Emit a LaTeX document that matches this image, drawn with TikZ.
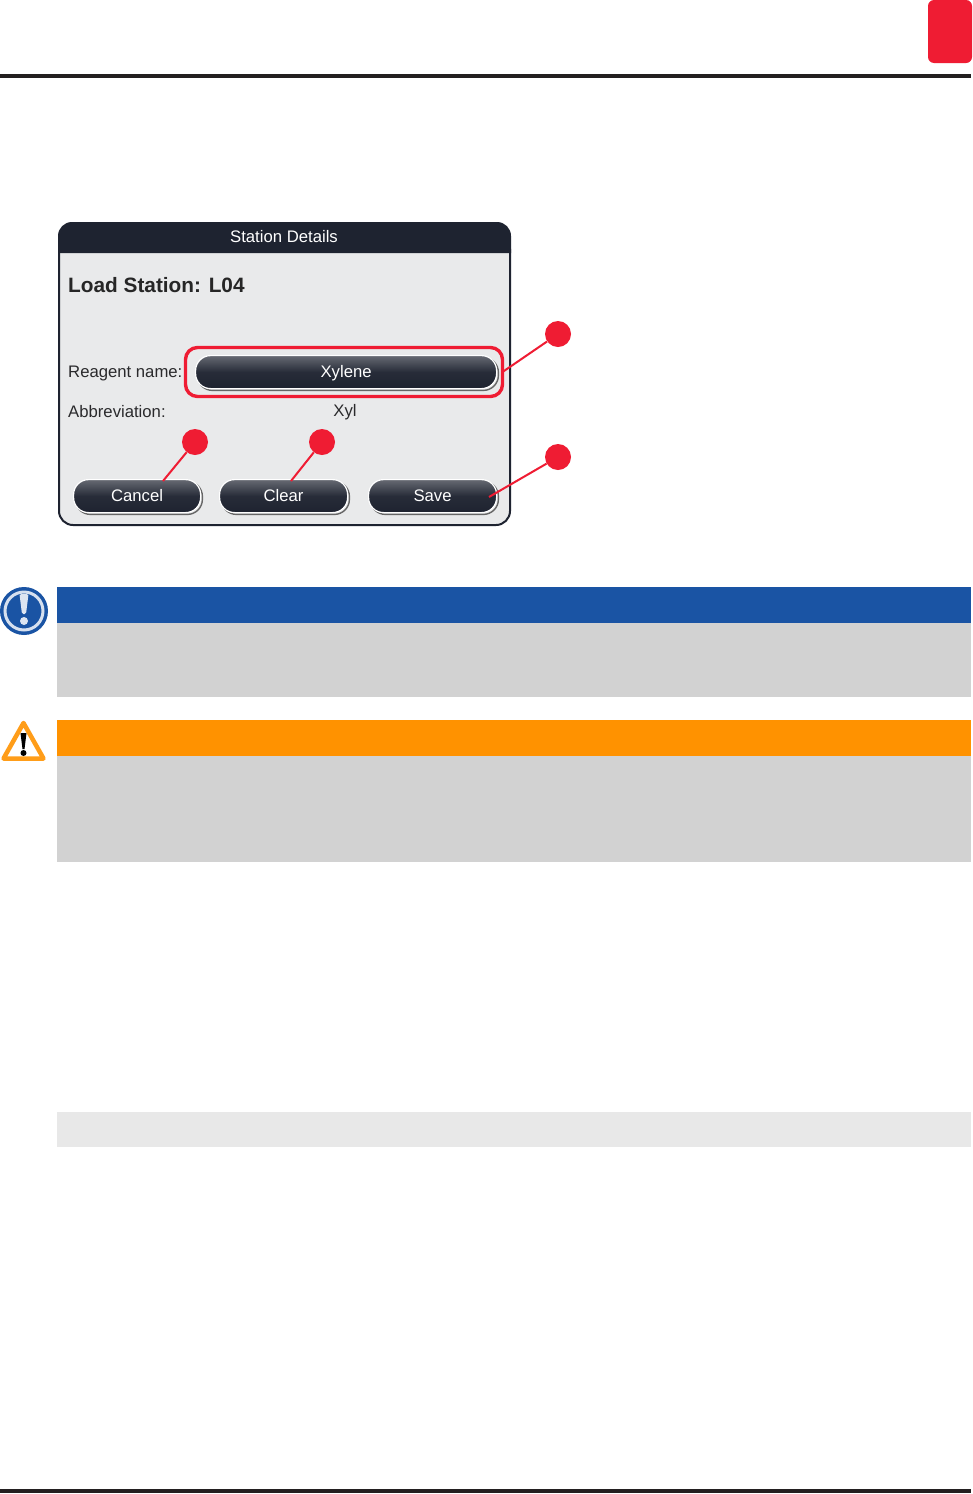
\documentclass[tikz,border=0pt]{standalone}
\usepackage{fontspec}
\setmainfont{Liberation Sans}
\usetikzlibrary{positioning,shapes.geometric}
\definecolor{tabred}{HTML}{EF1C33}
\definecolor{rulegray}{HTML}{231F20}
\definecolor{dialoggray}{HTML}{E9EAEB}
\definecolor{headdark}{HTML}{1E2330}
\definecolor{noteblue}{HTML}{1A54A4}
\definecolor{noteorange}{HTML}{FF9200}
\definecolor{notegray}{HTML}{D2D2D2}
\definecolor{paleband}{HTML}{E8E8E8}
\definecolor{textdark}{HTML}{2A2A2C}

\begin{document}
\begin{tikzpicture}[x=1pt,y=-1pt,%
  % common options for the buttons:
  btn/.style = {rounded corners=15pt, anchor=north west, inner sep=0,
              minimum height=33pt, text=white, font=\fontsize{16.7}{20}\selectfont,
              text height=13.5pt, text depth=2.5pt,
              top color=headdark!68!white, bottom color=headdark, middle color=headdark!96!white,
              draw=white, line width=1.2pt,
              preaction={draw=black!60, line width=1.4pt, transform canvas={xshift=1.8pt,yshift=-1.8pt}}},
  % common options for the callouts:
  callout/.style = {circle, fill=tabred, minimum size=26pt, inner sep=0},
  link/.style = {draw=tabred, line width=2pt},
  % common options for the bars:
  bar/.style = {anchor=north west, inner sep=0, outer sep=0},
  lbl/.style = {anchor=west, inner sep=0, text=textdark, text height=12pt, text depth=3pt,
              font=\fontsize{16.7}{20}\selectfont}
	]
  \useasboundingbox (0,0) rectangle (972,1494);
  \fill[white] (0,0) rectangle (972,1494);

  % page furniture
  \node[bar, fill=tabred, rounded corners=6pt, minimum width=44pt, minimum height=63pt] (tab) at (928,0) {};
  \draw[rulegray, line width=4pt] (0,76) -- (971,76);
  \draw[rulegray, line width=4pt] (0,1491) -- (971,1491);

  % dialog
  \draw[fill=dialoggray, draw=headdark, line width=2pt, rounded corners=14pt]
    (59,235) rectangle (510,525);
  \fill[headdark] (58,253) -- (58,236) [rounded corners=14pt] -- (58,222) -- (511,222) [sharp corners] -- (511,253) -- cycle;
  \node[lbl, anchor=center, text=white, font=\fontsize{16.7}{20}\selectfont] (title) at (284,238) {Station Details};
  \node[lbl, text=black!85, font=\bfseries\fontsize{20.8}{24}\selectfont] (load) at (68,288) {Load Station: L04};
  \node[lbl] (reagent) at (68,372.5) {Reagent name:};
  \node[lbl] (abbrev) at (68,412.5) {Abbreviation:};
  \node[lbl, anchor=center] (xyl) at (345,412) {Xyl};

  \node[btn, minimum width=301pt] (xylene) at (195,355) {Xylene};
  \node[btn, minimum width=127pt] (cancel) at (73,479) {Cancel};
  \node[btn, minimum width=128pt] (clear) at (219,479) {Clear};
  \node[btn, minimum width=128pt] (save) at (368,479) {Save};

  \node[bar, draw=tabred, line width=3.4pt, rounded corners=12pt,
    minimum width=317pt, minimum height=49pt] (frame) at (185.5,347.5) {};

  % callouts
  \node[callout] (c1) at (558,334) {};
  \node[callout] (c2) at (558,457) {};
  \node[callout] (c3) at (195,442) {};
  \node[callout] (c4) at (322,442) {};
  \coordinate (saveend) at (489,497);
  \coordinate (cancelend) at (163,481);
  \coordinate (clearend) at (291,481);

  \draw[link] (c1) -- (frame.east);
  \draw[link] (c2) -- (saveend);
  \draw[link] (c3) -- (cancelend);
  \draw[link] (c4) -- (clearend);

  % notes
  \node[bar, fill=noteblue, minimum width=914pt, minimum height=36pt] (bluebar) at (57,587) {};
  \node[bar, fill=notegray, minimum width=914pt, minimum height=74pt] (bluebody) at (57,623) {};
  \node[bar, fill=noteorange, minimum width=914pt, minimum height=36pt] (orangebar) at (57,720) {};
  \node[bar, fill=notegray, minimum width=914pt, minimum height=106pt] (orangebody) at (57,756) {};
  \node[bar, fill=paleband, minimum width=914pt, minimum height=35pt] (band) at (57,1112) {};

  % notice icon
  \node[circle, fill=noteblue, minimum size=48pt, inner sep=0] (info) at (24,611) {};
  \node[circle, draw=white!82!noteblue, line width=3pt, minimum size=38pt, inner sep=0] (inforing) at (24,611) {};
  \fill[white!85!noteblue, rounded corners=1.5pt] (19.5,594) -- (28.5,594) -- (26,614) -- (22,614) -- cycle;
  \fill[white!85!noteblue] (24,621) circle (4);

  % warning icon
  \draw[noteorange!90!white, line width=4.5pt, line join=round, fill=white]
    (23.5,723) -- (43.5,758.5) -- (3.5,758.5) -- cycle;
  \fill[black] (20.5,733) -- (26.5,733) -- (24.5,749) -- (22.5,749) -- cycle;
  \fill[black] (23.5,753) circle (3);
\end{tikzpicture}
\end{document}
